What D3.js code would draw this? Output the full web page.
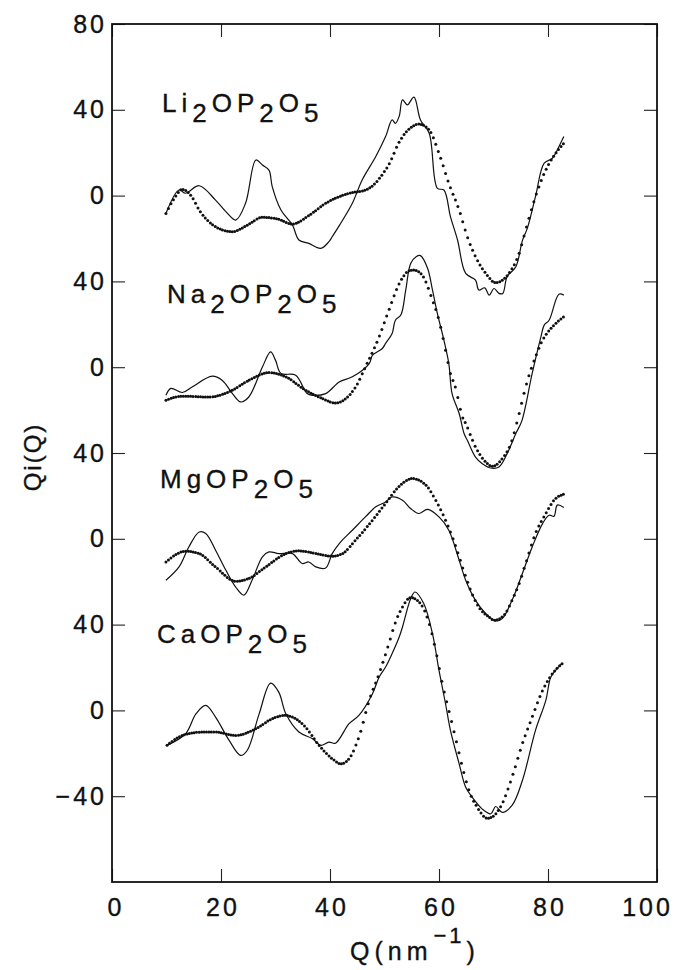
<!DOCTYPE html>
<html>
<head>
<meta charset="utf-8">
<script src="https://cdn.jsdelivr.net/npm/d3@7"></script>
<style>
  html, body { margin: 0; padding: 0; background: #fff; }
  svg { display: block; }
  text { font-family: "Liberation Sans", Arial, Helvetica, sans-serif; fill: #111; stroke: #111; stroke-width: 0.35px; }
</style>
</head>
<body>
<svg id="chart" width="683" height="970"></svg>
<script>
// ---------------- DATA ----------------
const xTicks = [0, 20, 40, 60, 80, 100];
const yTickValues = [-40, 0, 40, 80, 120, 160, 200, 240, 280, 320];
const yTickLabels = ["\u221240", "0", "40", "0", "40", "0", "40", "0", "40", "80"];

const seriesNames = ["Li2OP2O5", "Na2OP2O5", "MgOP2O5", "CaOP2O5"];
const seriesOffsets = [240, 160, 80, 0];

// [Q (nm^-1), Qi(Q)] — experiment (thin line)
const liExp = [[9.9,-8.3],[12.3,2.6],[13.5,1.1],[16,4.6],[19,-2.1],[20.9,-7.5],[22.7,-11.4],[24.5,-3.6],[26.4,16.6],[27.6,14.3],[28.8,11.9],[29.4,4.2],[31,-6.7],[33.1,-13.7],[34.3,-20.7],[36.1,-22.3],[38.3,-24.6],[39.8,-21.5],[40.4,-19.2],[41.7,-14],[44.1,-3.6],[45.9,7.3],[48.4,18.2],[50.2,27.5],[51.4,35.3],[52,33.7],[52.7,37],[53.3,44.6],[54.2,42.3],[55.4,45.9],[56.6,35.3],[58.2,29.1],[59.7,3.4],[60.9,2.6],[62.1,-9.8],[63.4,-20.7],[64.9,-36.3],[66.7,-39.4],[67.3,-44],[68.4,-43],[69.2,-46.4],[70.1,-43.3],[71,-45.6],[71.7,-45.6],[72.5,-37.8],[74.1,-33.2],[75.3,-21],[76.2,-15.3],[77.7,-0.5],[79.3,15.1],[80.8,17.4],[82,22.8],[82.9,27.5]];
const naExp = [[9.9,-13.1],[10.8,-9.9],[12.9,-11.8],[14.7,-9.2],[18.4,-4.2],[20.2,-6.1],[22.1,-12.3],[23.6,-16.2],[25.1,-13.9],[27.6,0.1],[29.1,7.1],[30,3.3],[31,-2.9],[33.7,-3.7],[35.8,-12.3],[36.8,-13.1],[39.2,-12.3],[41.7,-6.9],[44.1,-4.5],[47.2,1.7],[47.8,5.6],[49.6,8.7],[50.2,11.1],[51.4,15.7],[52,21.9],[53,24.3],[53.9,36],[54.8,48.4],[55.8,51.5],[56.6,52],[57.9,46.1],[58.8,36],[59.7,25.1],[60.9,12.6],[61.8,1.7],[62.4,-12.3],[63.7,-21.6],[64.6,-30.9],[65.2,-34.1],[66.7,-41.9],[67.9,-44.9],[69.5,-47],[71,-46.5],[72.5,-40.3],[74.1,-30.9],[75.2,-25],[77.1,-2.9],[78.7,14.1],[79.3,19.6],[80.2,21.9],[82,34],[82.9,33.6]];
const mgExp = [[9.9,-19.3],[12.3,-13.1],[14.1,-3.8],[16,3.2],[17.2,2.5],[19,-5.3],[20.9,-14.7],[22.7,-22.5],[24.2,-26.3],[25.7,-19.3],[27.6,-8.4],[28.8,-6.1],[30.6,-6.9],[33.1,-6.9],[34.9,-11.5],[36.1,-10.8],[37.4,-13.1],[39.2,-13.6],[40.4,-6.9],[41.7,-2.2],[44.1,4],[46.5,10.2],[48.4,14.9],[50.2,17.2],[51.4,19.5],[53.3,18],[54.8,14.1],[56.3,11.8],[57.9,13.7],[60,10.2],[61.8,4],[63.7,-10],[64.9,-19.3],[66.7,-28.7],[68.6,-34.9],[70.4,-38.3],[71.6,-37.2],[73.4,-28.7],[75.3,-16.2],[77.1,-3.8],[79,7.1],[80.2,11],[81.1,10.5],[81.7,15.7],[82.9,14.6]];
const caExp = [[10.1,-16.3],[13.5,-10.9],[15.4,-1.6],[17.2,2.3],[19,-3.1],[21.5,-14],[23.6,-21],[24.8,-18.7],[27,-1.6],[29.1,12.7],[30.6,8.5],[31.9,-1.6],[34.3,-10.1],[36.8,-13.2],[38.3,-16.3],[39.8,-14.8],[41,-15.3],[43.5,-6.2],[45.3,-2.3],[47.8,7.8],[49,15.5],[50.2,20.2],[51.4,26.5],[52.7,34.2],[53.3,38.9],[54.8,52.1],[55.6,55.2],[57.2,49.8],[58.8,35.8],[60,18.7],[61.2,3.1],[62.1,-9.3],[63.7,-24.9],[64.9,-35.8],[66.1,-40.5],[67.9,-45.9],[69.5,-48.2],[70.4,-44.8],[71.6,-47.5],[73.4,-44.3],[75.3,-32.7],[77.7,-9.3],[79.6,4.7],[80.5,15.5],[81.4,18.7],[82.5,21.8]];

// [Q (nm^-1), Qi(Q)] — model (dotted line)
const liFit = [[9.9,-8.3],[11.5,-1],[12.9,2.9],[14.5,0],[16,-6.7],[19,-14.5],[22.1,-16.8],[25,-13.5],[27.6,-10.1],[30.5,-11],[33.1,-13.3],[36,-9.5],[39.2,-3.6],[43.5,1.1],[46.5,2.6],[48.4,6],[49.5,9.5],[50.8,14.5],[52.7,25],[55.1,32.2],[56.2,33.4],[58.2,30.6],[60,19.7],[61.8,5.7],[63.7,-6.7],[65.2,-19.2],[66.7,-28.5],[68.6,-36.3],[70.4,-40.6],[72.8,-36.3],[74.7,-26.9],[75.9,-16],[77.7,-0.5],[79.6,12],[81.4,19.7],[82.9,24.4]];
const naFit = [[9.9,-15.4],[12.9,-13.5],[17.8,-13.9],[22.1,-10.7],[25.1,-6.1],[28.8,-2.5],[31.9,-4.5],[35.5,-10.7],[38.6,-14.6],[41,-16.7],[42.9,-14.6],[44.7,-9.2],[46.5,0.1],[49,14.1],[50.8,26.6],[52.7,39],[54.5,44.9],[55.4,45.3],[56.9,43],[58.8,31.3],[60,21.9],[61.2,7.9],[62.1,-2.9],[63,-9.2],[64.3,-23.2],[64.9,-26.3],[66.7,-37.2],[68.6,-44.2],[69.8,-46.2],[71.6,-42.6],[73.4,-34.1],[74.4,-24.7],[75.9,-9.2],[77.7,4.8],[79,12.6],[80.8,18.8],[82.9,23.5]];
const mgFit = [[9.9,-10.8],[13.5,-5.8],[16,-6.9],[19,-13.1],[22.7,-19.8],[25.1,-18.5],[28.2,-13.1],[31.9,-6.9],[34.3,-5.6],[37.4,-6.9],[40.4,-8.1],[42.3,-6.9],[44.7,-0.6],[47.8,8.7],[50.2,16.5],[52.7,24.5],[55.1,28.1],[57.6,25],[59.4,18],[61.2,8.7],[63,-3],[64.3,-13.1],[65.8,-24],[67.3,-31.8],[69.2,-36.5],[70.1,-38],[71.9,-35.7],[73.4,-28.7],[74.7,-20.9],[75.9,-11.5],[77.7,2.5],[79.6,11.8],[81.1,18],[82.9,20.8]];
const caFit = [[10.1,-16.3],[12.9,-11.7],[16.6,-10.1],[19,-10.1],[22.7,-11.7],[26.4,-8.5],[29.4,-3.9],[31.6,-2.3],[33.7,-3.9],[35.5,-7.8],[38,-16.3],[40.4,-22.5],[42,-24.9],[43.5,-22.5],[45.3,-12.5],[47.2,4.7],[49,17.1],[50.8,31.1],[52,41],[53.3,48.2],[54.8,52.6],[56.6,49.8],[58.2,40.5],[59.4,28],[60.6,12.5],[61.8,0],[63,-12.5],[64.3,-26.5],[65.5,-37.3],[67,-45.1],[68.9,-50.3],[70.1,-49],[71.6,-43.5],[73.4,-31.1],[75.3,-15.5],[77.1,-3.1],[79,9.3],[80.8,17.1],[82.6,21.8]];

const expSeries = [liExp, naExp, mgExp, caExp];
const fitSeries = [liFit, naFit, mgFit, caFit];

// ---------------- LAYOUT ----------------
const svg = d3.select("#chart");
const L = 112, R = 657, T = 24, B = 882;
const x = d3.scaleLinear().domain([0, 100]).range([L, R]);
const y = d3.scaleLinear().domain([-80, 320]).range([B, T]);
const FONT = '"Liberation Sans", Arial, Helvetica, sans-serif';
const TICK_FS = 25, TICK_LS = 3;

// axes (ticks inward)
const gB = svg.append("g").attr("transform", `translate(0,${B})`)
  .call(d3.axisBottom(x).tickValues(xTicks).tickSize(-13).tickSizeOuter(0).tickPadding(16));
const gT = svg.append("g").attr("transform", `translate(0,${T})`)
  .call(d3.axisTop(x).tickValues(xTicks).tickSize(-13).tickSizeOuter(0).tickFormat(""));
const gL = svg.append("g").attr("transform", `translate(${L},0)`)
  .call(d3.axisLeft(y).tickValues(yTickValues).tickSize(-13).tickSizeOuter(0).tickPadding(5)
    .tickFormat((d, i) => yTickLabels[i]));
const gR = svg.append("g").attr("transform", `translate(${R},0)`)
  .call(d3.axisRight(y).tickValues(yTickValues).tickSize(-13).tickSizeOuter(0).tickFormat(""));

[gB, gT, gL, gR].forEach(g => {
  g.select(".domain").remove();
  g.selectAll(".tick line").attr("stroke", "#222").attr("stroke-width", 1.1);
  g.selectAll("text").attr("font-family", FONT).attr("font-size", TICK_FS).attr("fill", "#111")
    .attr("letter-spacing", TICK_LS);
});
gB.selectAll(".tick text").attr("dx", d => (d === 100 ? -10 : TICK_LS / 2 + (d === 0 ? 2 : 0)));

// frame
svg.append("rect").attr("x", L).attr("y", T).attr("width", R - L).attr("height", B - T)
  .attr("fill", "none").attr("stroke", "#111").attr("stroke-width", 1.8);

// curves
const lineExp = (off) => d3.line().x(d => x(d[0])).y(d => y(d[1] + off)).curve(d3.curveCatmullRom.alpha(0.5));
const lineFit = (off) => d3.line().x(d => x(d[0])).y(d => y(d[1] + off)).curve(d3.curveMonotoneX);

const gCurves = svg.append("g");
fitSeries.forEach((data, i) => {
  const off = seriesOffsets[i];
  const p = gCurves.append("path").attr("d", lineFit(off)(data)).attr("fill", "none").attr("stroke", "none");
  const node = p.node();
  const total = node.getTotalLength();
  const stepX = x(0.45) - x(0);
  const pts = [];
  let nextX = x(data[0][0]);
  for (let s = 0; s <= total; s += 0.4) {
    const pt = node.getPointAtLength(s);
    if (pt.x >= nextX - 0.01) { pts.push([pt.x, pt.y]); nextX += stepX; }
  }
  gCurves.append("g").selectAll("circle").data(pts).join("circle")
    .attr("cx", d => d[0]).attr("cy", d => d[1]).attr("r", 1.5).attr("fill", "#111");
});
expSeries.forEach((data, i) => {
  gCurves.append("path").attr("d", lineExp(seriesOffsets[i])(data))
    .attr("fill", "none").attr("stroke", "#111").attr("stroke-width", 1.2).attr("stroke-linejoin", "round");
});

// series labels with subscripts
const labelPos = [[162, 112], [167, 303], [160, 488], [157, 643]];
const labelParts = [
  [["Li", 0], ["2", 1], ["OP", 0], ["2", 1], ["O", 0], ["5", 1]],
  [["Na", 0], ["2", 1], ["OP", 0], ["2", 1], ["O", 0], ["5", 1]],
  [["MgOP", 0], ["2", 1], ["O", 0], ["5", 1]],
  [["CaOP", 0], ["2", 1], ["O", 0], ["5", 1]]
];
labelParts.forEach((parts, i) => {
  const t = svg.append("text").attr("x", labelPos[i][0]).attr("y", labelPos[i][1])
    .attr("font-family", FONT).attr("font-size", 26).attr("letter-spacing", 5).attr("fill", "#111")
    .attr("aria-label", seriesNames[i]);
  let cur = 0;
  parts.forEach(([s, sub]) => {
    const dy = (sub ? 10 : 0) - cur;
    cur = sub ? 10 : 0;
    t.append("tspan").attr("dy", dy).text(s);
  });
});

// axis titles
svg.append("text").attr("transform", "translate(41,457) rotate(-90)").attr("text-anchor", "middle")
  .attr("font-family", FONT).attr("font-size", 24).attr("letter-spacing", 2).text("Qi(Q)");

const xt = svg.append("text").attr("x", 350).attr("y", 960)
  .attr("font-family", FONT).attr("font-size", 25).attr("letter-spacing", 5);
xt.append("tspan").text("Q(nm");
xt.append("tspan").attr("dy", -17).attr("dx", 1).attr("font-size", 22).attr("letter-spacing", 3).text("\u22121");
xt.append("tspan").attr("dy", 17).attr("dx", 2).text(")");
</script>
</body>
</html>
